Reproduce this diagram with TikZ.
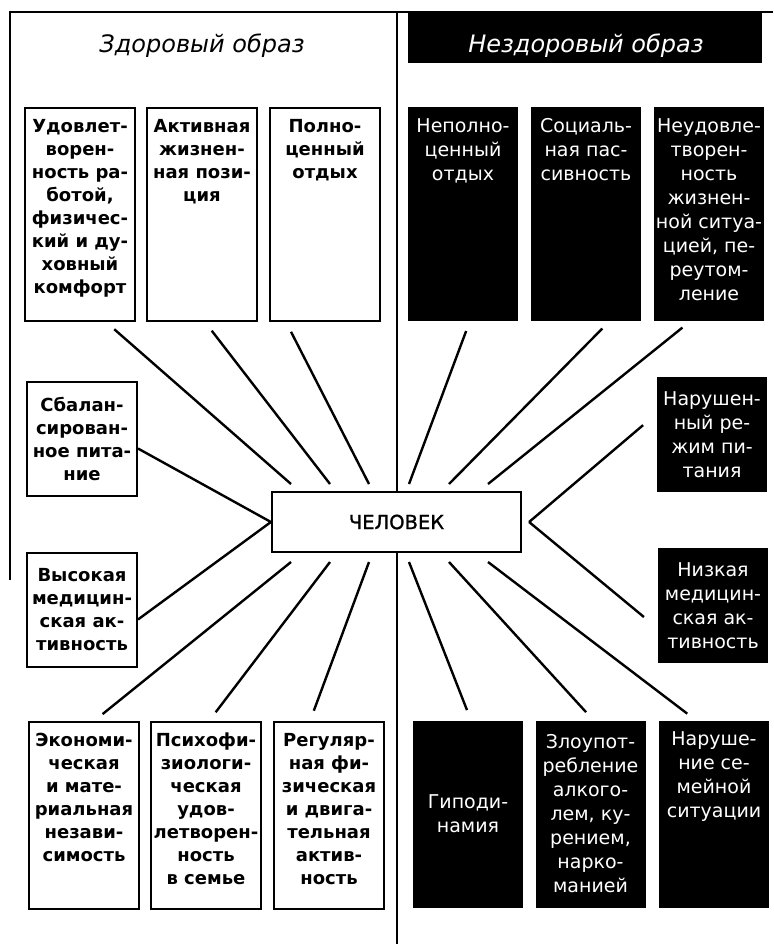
\documentclass[tikz,border=0pt]{standalone}
\usepackage{fontspec}
\setmainfont{DejaVu Sans}
\newfontfamily\manfont[FakeBold=1.2]{DejaVu Sans}
\newcommand{\celltext}[3][t]{\parbox[c][#2][#1]{110pt}{\centering #3}}

\begin{document}
\begin{tikzpicture}[x=1pt, y=-1pt]
    \tikzset{
        wbox/.style={draw, line width=2pt, fill=white, inner xsep=0pt, inner ysep=11pt,
                     font=\fontsize{18}{23}\selectfont\bfseries},
        bbox/.style={fill=black, text=white, inner xsep=0pt, inner ysep=11pt,
                     font=\fontsize{19}{24}\selectfont},
        link/.style={line width=2.4pt, shorten <=11pt},
        head/.style={font=\fontsize{24}{28}\selectfont\itshape},
    }
    \useasboundingbox (0,0) rectangle (773,944);
    % frame
    \draw[line width=2pt] (10,580) -- (10,12) -- (773,12);
    \draw[line width=2.2pt] (397,12) -- (397,944);
    % headings
    \node[head] (good) at (202,46) {Здоровый образ};
    \node[fill=black, minimum width=354pt, minimum height=51pt] (badbar) at (585,37.5) {};
    \node[head, text=white] (bad) at (586,46) {Нездоровый образ};
    % centre
    \node[draw, line width=2.2pt, fill=white, minimum width=249pt, minimum height=60pt,
          font=\manfont\fontsize{19.5}{24}\selectfont] (man) at (396.5,522) {ЧЕЛОВЕК};
    % healthy side
    \node[wbox] (udov) at (80,214.5) {\celltext{191pt}{Удовлет-\\ворен-\\ность ра-\\ботой,\\физичес-\\кий и ду-\\ховный\\комфорт}};
    \node[wbox] (aktiv) at (202,214.5) {\celltext{191pt}{Активная\\жизнен-\\ная пози-\\ция}};
    \node[wbox] (polno) at (325,214.5) {\celltext{191pt}{Полно-\\ценный\\отдых}};
    \node[wbox] (sbal) at (82,438.5) {\celltext[c]{92pt}{Сбалан-\\сирован-\\ное пита-\\ние}};
    \node[wbox] (vys) at (82,609.5) {\celltext[c]{92pt}{Высокая\\медицин-\\ская ак-\\тивность}};
    \node[wbox] (econ) at (84,815.5) {\celltext{165pt}{Экономи-\\ческая\\и мате-\\риальная\\незави-\\симость}};
    \node[wbox] (psych) at (206,815.5) {\celltext{165pt}{Психофи-\\зиологи-\\ческая\\удов-\\летворен-\\ность\\в семье}};
    \node[wbox] (regul) at (329,815.5) {\celltext{165pt}{Регуляр-\\ная фи-\\зическая\\и двига-\\тельная\\актив-\\ность}};
    % unhealthy side
    \node[bbox] (nepol) at (463,214) {\celltext{191pt}{Неполно-\\ценный\\отдых}};
    \node[bbox] (social) at (586,214) {\celltext{191pt}{Социаль-\\ная пас-\\сивность}};
    \node[bbox] (neudov) at (709,214) {\celltext{191pt}{Неудовле-\\творен-\\ность\\жизнен-\\ной ситуа-\\цией, пе-\\реутом-\\ление}};
    \node[bbox] (narush) at (712,434.5) {\celltext[c]{93pt}{Нарушен-\\ный ре-\\жим пи-\\тания}};
    \node[bbox] (nizk) at (713,605.5) {\celltext[c]{93pt}{Низкая\\медицин-\\ская ак-\\тивность}};
    \node[bbox] (gipo) at (468,814) {\celltext[c]{165pt}{Гиподи-\\намия}};
    \node[bbox] (zloup) at (590.5,814) {\celltext[c]{165pt}{Злоупот-\\ребление\\алкого-\\лем, ку-\\рением,\\нарко-\\манией}};
    \node[bbox] (semya) at (714,814) {\celltext{165pt}{Наруше-\\ние се-\\мейной\\ситуации}};
    % ends of the rays
    \foreach \x [count=\i] in {291,330,369,409,449,488} {
        \coordinate (t\i) at (\x,484);
        \coordinate (b\i) at (\x,562);
    }
    \coordinate (rm) at ([xshift=7pt]man.east);
    % rays
    \draw[link] ([xshift=26pt]udov.south) -- (t1);
    \draw[link] ([xshift=3pt]aktiv.south) -- (t2);
    \draw[link] ([xshift=-39pt]polno.south) -- (t3);
    \draw[link] ([xshift=7pt]nepol.south) -- (t4);
    \draw[link] ([xshift=24pt]social.south) -- (t5);
    \draw[link] ([xshift=-18pt]neudov.south) -- (t6);
    \draw[link, shorten <=0pt] ([yshift=-10pt]sbal.east) -- (man.west);
    \draw[link, shorten <=0pt] ([yshift=-10pt]vys.east) -- (man.west);
    \draw[link, shorten <=18pt] ([yshift=21pt]narush.west) -- (rm);
    \draw[link, shorten <=18pt] ([yshift=-23pt]nizk.west) -- (rm);
    \draw[link] ([xshift=10pt]econ.north) -- (b1);
    \draw[link] ([xshift=3pt]psych.north) -- (b2);
    \draw[link] ([xshift=-19pt]regul.north) -- (b3);
    \draw[link] ([xshift=3pt]gipo.north) -- (b4);
    \draw[link] ([xshift=3pt]zloup.north) -- (b5);
    \draw[link] ([xshift=-18pt]semya.north) -- (b6);
\end{tikzpicture}
\end{document}
